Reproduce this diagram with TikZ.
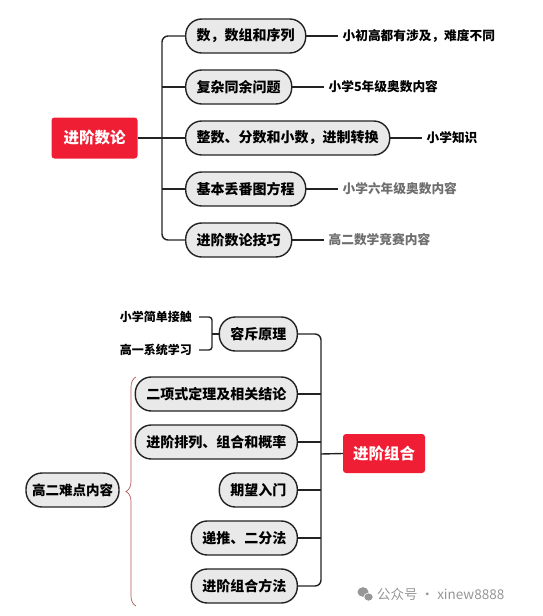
\documentclass[tikz,border=0pt]{standalone}
\usepackage{fontspec}
\setmainfont{Noto Sans CJK SC}
\usetikzlibrary{positioning,decorations.pathreplacing}
\definecolor{hred}{RGB}{240,30,52}
\definecolor{bfill}{RGB}{233,233,233}
\definecolor{bline}{RGB}{35,35,35}
\definecolor{bracecol}{RGB}{180,85,85}
\definecolor{wmgray}{RGB}{150,150,150}
\definecolor{notegray}{RGB}{110,110,110}
\tikzset{
  root/.style={fill=hred, text=white, rounded corners=3pt, minimum height=41pt,
    inner xsep=12pt, font=\fontsize{15.5}{16}\selectfont\bfseries},
  sub/.style={draw=bline, line width=1.4pt, fill=bfill, rounded corners=16pt,
    minimum height=34pt, inner xsep=11pt, font=\fontsize{14}{15}\selectfont\bfseries},
  note/.style={inner xsep=4pt, font=\fontsize{12.7}{13}\selectfont\bfseries},
  link/.style={line width=1.4pt, draw=bline},
}
\begin{document}
\begin{tikzpicture}[x=1pt, y=-1pt]
	\useasboundingbox (0,0) rectangle (542,616);
	%进阶数论
	\node[root] (nt) at (94.5,138) {进阶数论};
	\path (162,138) coordinate (ntrunk);
	%分支
	\node[sub, anchor=west] (a1) at (185,36) {数，数组和序列};
	\node[sub, anchor=west] (a2) at (185,87) {复杂同余问题};
	\node[sub, anchor=west] (a3) at (185,138) {整数、分数和小数，进制转换};
	\node[sub, anchor=west] (a4) at (185,189) {基本丢番图方程};
	\node[sub, anchor=west] (a5) at (185,240) {进阶数论技巧};
	\draw[link, rounded corners=6pt] (a1.west) -| (ntrunk) |- (a5.west);
	\draw[link] (nt.east) -- (ntrunk);
	\foreach \i in {2,3,4}
		\draw[link] (a\i.west) -- (a\i.west -| ntrunk);
	%说明
	\node[note, right=32pt of a1] (b1) {小初高都有涉及，难度不同};
	\node[note, right=32pt of a2] (b2) {小学5年级奥数内容};
	\node[note, right=32pt of a3] (b3) {小学知识};
	\node[note, right=32pt of a4, text=notegray] (b4) {小学六年级奥数内容};
	\node[note, right=32pt of a5, text=notegray] (b5) {高二数学竞赛内容};
	\foreach \i in {1,...,5}
		\draw[link] (a\i.east) -- (b\i.west);
	%进阶组合
	\node[root, inner xsep=10pt, minimum height=39pt] (zh) at (384,453.5) {进阶组合};
	\path (321,454) coordinate (ztrunk);
	%分支
	\node[sub, anchor=east] (c1) at (298,334) {容斥原理};
	\node[sub, anchor=east] (c2) at (298,394) {二项式定理及相关结论};
	\node[sub, anchor=east] (c3) at (298,442) {进阶排列、组合和概率};
	\node[sub, anchor=east] (c4) at (298,490) {期望入门};
	\node[sub, anchor=east] (c5) at (298,538) {递推、二分法};
	\node[sub, anchor=east] (c6) at (298,586) {进阶组合方法};
	\draw[link, rounded corners=6pt] (c1.east) -| (ztrunk) |- (c6.east);
	\draw[link] (ztrunk) -- (zh.west);
	\foreach \i in {2,...,5}
		\draw[link] (c\i.east) -- (c\i.east -| ztrunk);
	%容斥原理
	\node[note, anchor=east, inner xsep=7pt, font=\fontsize{12}{12}\selectfont\bfseries] (d1) at (199,317) {小学简单接触};
	\node[note, anchor=east, inner xsep=7pt, font=\fontsize{12}{12}\selectfont\bfseries] (d2) at (199,350) {高一系统学习};
	\path (212,334) coordinate (dj);
	\draw[link, rounded corners=3pt] (d1.east) -| (dj) |- (d2.east);
	\draw[link] (dj) -- (c1.west);
	%高二
	\node[sub, inner xsep=6pt, font=\fontsize{13.5}{14}\selectfont\bfseries] (e1) at (72.5,490) {高二难点内容};
	\path (136,606) coordinate (eb) (136,377) coordinate (et);
	\draw[bracecol, line width=0.7pt, decorate, decoration={brace, amplitude=10pt}] (eb) -- (et);
	%水印
	\node[anchor=west, inner sep=0pt, text=wmgray, font=\fontsize{13.5}{14}\selectfont] (wm) at (377,594) {公众号 · xinew8888};
	\fill[wmgray] (363,592) ellipse (5.5pt and 4.8pt);
	\fill[white] (368.5,597) ellipse (5pt and 4.3pt);
	\fill[wmgray] (368.5,597) ellipse (4.2pt and 3.6pt);
\end{tikzpicture}
\end{document}
